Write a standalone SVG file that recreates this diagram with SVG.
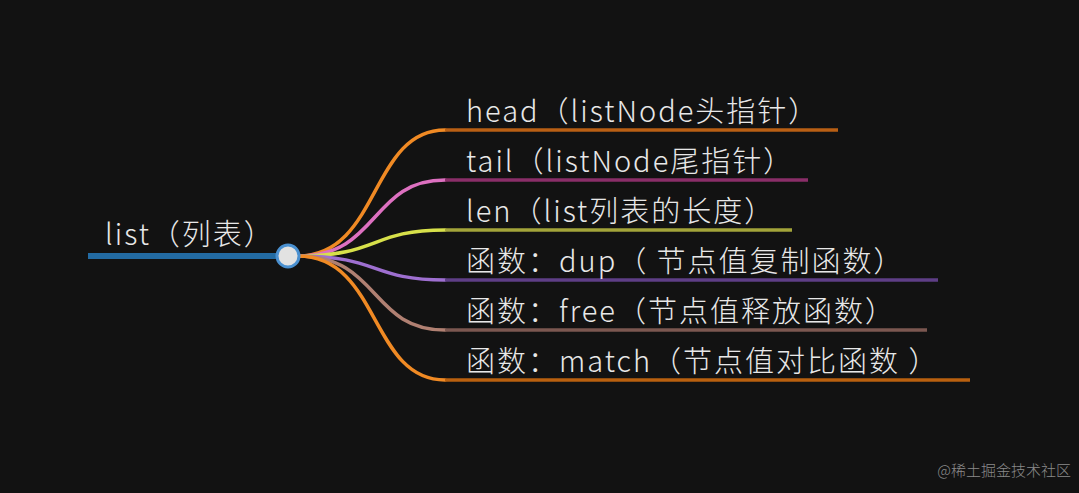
<svg xmlns="http://www.w3.org/2000/svg" width="1079" height="493" viewBox="0 0 1079 493">
<style>
text{font-family:"Noto Sans CJK SC","Noto Sans",sans-serif;fill:#e8e8e8;font-size:29px;font-weight:300;letter-spacing:2px}
.c{fill:none;stroke-width:3.5;stroke-linecap:round}
.u{stroke-width:3.5}
</style>
<rect width="1079" height="493" fill="#121212"/>
<g id="connectors">
<line x1="88" y1="256" x2="280" y2="256" stroke="#236ba3" stroke-width="6"/>
<path class="c" stroke="#f08a24" d="M298,256 C380,256 370,130 445,130"/>
<path class="c" stroke="#dd70c0" d="M298,256 C380,256 370,180 445,180"/>
<path class="c" stroke="#d7e04a" d="M298,256 C380,256 370,230 445,230"/>
<path class="c" stroke="#9e6fd0" d="M298,256 C380,256 370,280 445,280"/>
<path class="c" stroke="#b08072" d="M298,256 C380,256 370,330 445,330"/>
<path class="c" stroke="#f08a24" d="M298,256 C380,256 370,380 445,380"/>
</g>
<g id="root"><text x="105" y="245">list（列表）</text>
<circle cx="288" cy="256" r="11" fill="#e2e2e2" stroke="#4a90d0" stroke-width="3"/></g>
<g id="n1"><line class="u" x1="445" y1="130" x2="838" y2="130" stroke="#b95f14"/><text x="466" y="122">head（listNode头指针）</text></g>
<g id="n2"><line class="u" x1="445" y1="180" x2="808" y2="180" stroke="#8a2e68"/><text x="466" y="172">tail（listNode尾指针）</text></g>
<g id="n3"><line class="u" x1="445" y1="230" x2="792" y2="230" stroke="#a3a43a"/><text x="466" y="222">len（list列表的长度）</text></g>
<g id="n4"><line class="u" x1="445" y1="280" x2="938" y2="280" stroke="#5e3e86"/><text x="466" y="272">函数：dup（ 节点值复制函数）</text></g>
<g id="n5"><line class="u" x1="445" y1="330" x2="927" y2="330" stroke="#7b5750"/><text x="466" y="322">函数：free（节点值释放函数）</text></g>
<g id="n6"><line class="u" x1="445" y1="380" x2="970" y2="380" stroke="#b9600f"/><text x="466" y="372">函数：match（节点值对比函数 ）</text></g>
<text x="1071" y="476" text-anchor="end" style="font-size:15px;fill:#8a8a8a;letter-spacing:0">@稀土掘金技术社区</text>
</svg>
